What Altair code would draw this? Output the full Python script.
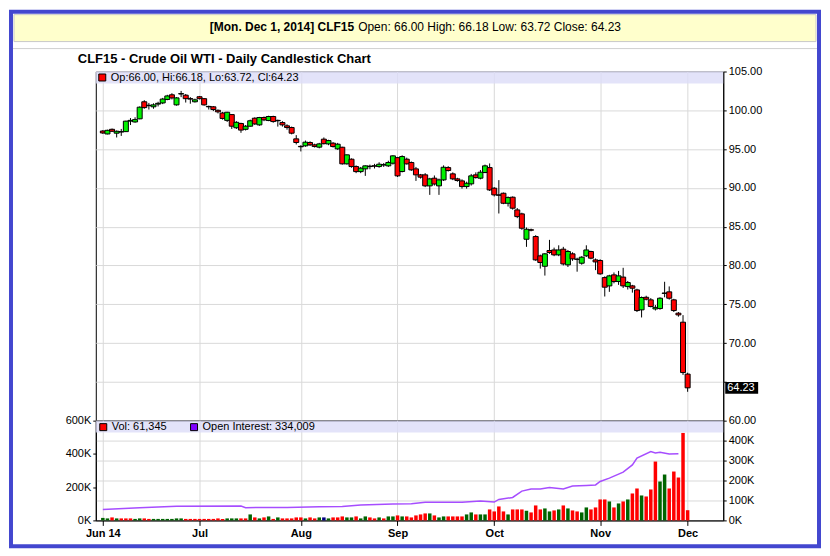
import altair as alt
import pandas as pd

# ---------------- data ----------------
opens = [97.33, 96.95, 97.55, 97.05, 97.20, 97.25, 98.60, 98.50, 98.90, 101.10,
         100.60, 100.45, 100.80, 100.95, 101.40, 102.00, 100.70, 102.10, 101.95, 101.50,
         101.10, 101.75, 101.50, 100.50, 100.45, 100.00, 99.65, 98.70, 99.45, 97.75,
         98.30, 97.55, 97.95, 98.98, 98.12, 99.07, 98.68, 99.20, 98.70, 98.42,
         98.00, 97.78, 96.32, 95.35, 95.42, 95.85, 95.55, 95.25, 96.28, 95.67,
         95.76, 95.03, 95.24, 93.10, 93.70, 92.75, 92.10, 92.45, 92.75, 92.85,
         92.75, 92.95, 92.84, 93.18, 93.90, 92.11, 93.70, 93.27, 92.45, 91.68,
         91.68, 90.26, 91.25, 90.26, 91.03, 92.62, 91.81, 91.16, 90.90, 90.17,
         90.52, 91.68, 91.25, 91.98, 92.62, 89.96, 89.10, 89.31, 88.02, 88.80,
         87.16, 86.65, 83.38, 84.60, 83.73, 81.24, 79.90, 81.93, 82.00, 81.37,
         82.10, 80.08, 81.50, 80.80, 80.29, 81.24, 81.80, 80.72, 80.64, 78.44,
         77.37, 78.79, 77.93, 78.50, 77.28, 77.37, 76.85, 74.28, 75.90, 75.57,
         74.40, 74.45, 76.40, 76.60, 75.57, 73.85, 72.69, 66.00]
closes = [97.08, 97.42, 97.30, 97.30, 97.25, 98.60, 98.70, 98.80, 100.40, 100.35,
          100.65, 100.70, 100.90, 101.45, 101.85, 101.60, 101.60, 102.15, 101.50, 101.45,
          101.35, 101.50, 100.70, 100.45, 100.10, 99.80, 98.95, 99.75, 97.95, 98.45,
          97.45, 97.95, 98.65, 98.25, 99.07, 98.77, 99.20, 98.55, 98.65, 98.12,
          97.78, 97.05, 95.85, 95.30, 95.89, 95.55, 95.33, 95.67, 95.70, 96.10,
          95.33, 95.63, 93.10, 94.26, 92.75, 92.10, 92.54, 92.84, 92.80, 92.80,
          93.05, 93.00, 93.27, 94.13, 91.55, 94.04, 93.10, 92.32, 91.68, 91.38,
          90.26, 91.16, 90.50, 91.03, 92.66, 92.24, 91.16, 90.95, 90.17, 90.60,
          91.55, 91.33, 92.02, 92.84, 89.74, 89.10, 89.05, 88.02, 88.75, 87.38,
          86.30, 84.80, 84.67, 84.55, 80.72, 80.38, 81.50, 81.67, 81.37, 82.00,
          80.20, 81.80, 80.85, 80.80, 81.07, 82.00, 80.94, 80.46, 78.92, 77.20,
          78.66, 77.93, 78.66, 77.37, 77.80, 77.07, 74.19, 75.87, 75.65, 74.71,
          74.60, 75.78, 76.45, 75.78, 74.19, 73.63, 66.20, 64.23]
highs = [97.45, 97.50, 97.65, 97.40, 97.60, 98.65, 99.00, 99.10, 100.50, 101.30,
         100.95, 100.90, 101.10, 101.60, 102.00, 102.20, 101.70, 102.50, 102.10, 101.70,
         101.50, 101.85, 101.55, 100.60, 100.55, 100.10, 99.80, 99.80, 99.50, 98.60,
         98.40, 98.10, 98.80, 99.10, 99.15, 99.20, 99.30, 99.30, 98.80, 98.60,
         98.20, 97.90, 96.80, 95.50, 96.10, 96.00, 95.70, 95.80, 96.50, 96.20,
         95.90, 95.80, 95.30, 94.30, 93.80, 92.90, 92.70, 92.90, 93.00, 93.10,
         93.30, 93.20, 93.50, 94.20, 94.00, 94.20, 93.90, 93.40, 92.70, 91.80,
         91.90, 91.30, 91.60, 91.20, 92.90, 92.80, 92.00, 91.30, 91.10, 90.80,
         91.80, 92.00, 92.30, 93.00, 93.15, 90.10, 91.00, 89.40, 88.90, 88.90,
         87.40, 86.80, 84.90, 84.75, 83.90, 81.40, 81.60, 83.30, 82.30, 82.60,
         82.40, 82.00, 81.70, 81.00, 81.20, 82.60, 81.90, 80.90, 80.80, 78.60,
         78.80, 79.10, 79.30, 79.70, 78.00, 77.50, 77.00, 76.00, 76.10, 75.80,
         74.90, 75.90, 77.90, 77.30, 75.70, 74.00, 73.60, 66.18]
lows = [96.95, 96.90, 97.20, 96.50, 96.70, 97.20, 98.10, 98.40, 98.85, 100.20,
        100.10, 100.20, 100.50, 100.80, 101.30, 101.40, 100.60, 101.70, 101.00, 100.85,
        101.00, 101.40, 100.60, 100.10, 99.90, 99.60, 98.80, 98.50, 97.60, 97.60,
        97.10, 97.40, 97.90, 98.10, 98.00, 98.60, 98.60, 98.40, 97.90, 97.90,
        97.50, 96.90, 95.60, 94.70, 95.30, 95.40, 95.20, 95.10, 95.60, 95.50,
        95.20, 94.90, 93.00, 93.00, 92.60, 91.90, 91.90, 91.55, 92.40, 92.50,
        92.60, 92.70, 92.70, 93.00, 91.40, 92.00, 93.00, 92.20, 90.90, 91.20,
        90.10, 89.10, 90.30, 89.10, 90.90, 92.10, 91.00, 90.80, 89.90, 89.90,
        90.30, 91.20, 91.10, 91.90, 89.60, 88.90, 86.70, 87.90, 87.60, 87.20,
        86.10, 84.60, 82.40, 84.40, 80.60, 79.60, 78.70, 81.50, 81.20, 81.20,
        80.00, 79.80, 80.60, 79.20, 80.10, 81.10, 80.80, 79.40, 78.80, 76.00,
        76.60, 77.70, 77.50, 77.10, 76.90, 76.50, 74.00, 73.30, 75.50, 74.60,
        74.20, 74.30, 75.90, 75.60, 74.00, 73.40, 65.90, 63.72]
volumes_k = [15, 12, 18, 12, 12, 12, 12, 9, 12, 12,
             9, 9, 9, 9, 9, 9, 12, 12, 9, 9,
             9, 9, 9, 9, 9, 12, 9, 12, 12, 12,
             12, 12, 36, 18, 12, 18, 24, 9, 18, 12,
             12, 12, 18, 18, 12, 18, 12, 18, 18, 12,
             18, 18, 24, 18, 18, 24, 12, 24, 18, 12,
             18, 12, 24, 24, 30, 24, 24, 18, 30, 36,
             42, 42, 30, 18, 24, 24, 24, 24, 24, 36,
             48, 36, 36, 36, 66, 54, 84, 54, 36, 66,
             66, 66, 58, 48, 90, 66, 72, 54, 60, 66,
             90, 72, 60, 54, 48, 78, 66, 78, 126, 126,
             114, 78, 102, 114, 126, 162, 192, 150, 144, 186,
             354, 234, 276, 192, 294, 258, 526, 61.345]
vol_codes = ("ggrgrrrggr" "rgggggggrr" "rrrrrrrggg" "rrgrgrgrgr" "rrrrgrrgbg"
             "rrrggrggrr" "grggrgrrrr" "rgrggrrrrg" "grggrrrrgr" "rrgrrrggrg"
             "rgrrggrrrr" "grgrgrrgrr" "rggrrrrr")
oi_idx = [0, 8, 16, 30, 31, 40, 47, 52, 56, 63, 67, 70, 78, 82, 85, 86, 89, 91, 93, 95,
          97, 100, 102, 105, 107, 108, 110, 113, 115, 116, 119, 120, 121, 123, 125]
oi_k = [55, 63, 71, 72, 64, 65, 68, 70, 77, 82, 83, 91, 91, 97, 92, 105, 115, 147, 157, 158,
        165, 157, 172, 175, 178, 195, 212, 242, 278, 312, 345, 338, 342, 333, 334]
tick_idx = [0, 21, 43, 64, 85, 108, 127]
tick_labels = ["Jun 14", "Jul", "Aug", "Sep", "Oct", "Nov", "Dec"]
price_ticks = [60, 65, 70, 75, 80, 85, 90, 95, 100, 105]
hidden_price_label = 65   # covered by the last-price tag in the reference
vol_ticks = [0, 200000, 400000, 600000]
oi_ticks = [0, 100000, 200000, 300000, 400000]

header_bold = "[Mon. Dec 1, 2014] CLF15"
header_rest = "Open: 66.00 High: 66.18 Low: 63.72 Close: 64.23"
title_text = "CLF15 - Crude Oil WTI - Daily Candlestick Chart"
price_legend = "Op:66.00, Hi:66.18, Lo:63.72, Cl:64.23"
vol_legend = "Vol: 61,345"
oi_legend = "Open Interest: 334,009"

# ---------------- tables ----------------
FONT = "Liberation Sans"
W, PH, VH = 629, 350, 100
vmap = {"g": "#006400", "r": "#ff0000", "b": "#000080"}
df = pd.DataFrame({
    "i": list(range(len(opens))), "open": opens, "high": highs, "low": lows, "close": closes,
    "ccol": ["#00f000" if c >= o else "#ff0000" for o, c in zip(opens, closes)],
    "vol": [v * 1000 for v in volumes_k],
    "vcol": [vmap[c] for c in vol_codes],
})
oi_df = pd.DataFrame({"i": oi_idx, "oi": [v * 1000 for v in oi_k]})
last = df.iloc[[-1]].copy()
last["top"] = last["close"] + 0.75
last["bot"] = last["close"] - 0.75
last["lbl"] = last["close"].map(lambda v: f"{v:.2f}")
one = pd.DataFrame({"k": [0]})

xs = alt.Scale(domain=[-0.45, 133.65], nice=False, zero=False)
label_expr = " : ".join(f"datum.value == {t} ? '{l}'" for t, l in zip(tick_idx, tick_labels)) + " : ''"


def deco_rect(x, x2, y, y2, **kw):
    return alt.Chart(one).mark_rect(**kw).encode(
        x=alt.value(x), x2=alt.value(x2), y=alt.value(y), y2=alt.value(y2))


def deco_text(x, y, txt, **kw):
    return alt.Chart(one).mark_text(font=FONT, baseline="middle", color="black", **kw).encode(
        x=alt.value(x), y=alt.value(y), text=alt.value(txt))


# ---------------- price panel ----------------
px_axis = alt.Axis(values=tick_idx, labels=False, ticks=False, domain=False, grid=True, title=None)
py_scale = alt.Scale(domain=[60, 105], nice=False, zero=False)
py_axis = alt.Axis(orient="right", values=price_ticks, grid=True, title=None,
                   labelExpr=f"datum.value == {hidden_price_label} ? '' : format(datum.value, '.2f')",
                   tickSize=3, labelPadding=2, labelOverlap=False, labelFlush=False,
                   labelBound=False)


def PX():
    return alt.X("i:Q", scale=xs, axis=px_axis)


def PY(field):
    return alt.Y(field, scale=py_scale, axis=py_axis)


frame = deco_rect(-85, 725, -60, 476, filled=False, stroke="#4347cf", strokeWidth=4)
head_box = deco_rect(-82, 722, -57, -30, fill="#ffffcc", stroke="#c8c8c8", strokeWidth=1)
head_b = deco_text(259, -45, header_bold, align="right", fontSize=12, fontWeight="bold")
head_n = deco_text(263, -45, header_rest, align="left", fontSize=12)
sep = alt.Chart(one).mark_rule(color="#d0d0d0").encode(
    x=alt.value(-83), x2=alt.value(723), y=alt.value(-23))
title = deco_text(-18, -13, title_text, align="left", fontSize=13, fontWeight="bold")
pband = deco_rect(0, W, 0, 12, fill="#dcdcf7", opacity=0.8)
psq = deco_rect(3, 10, 2.5, 9.5, fill="#ff0000", stroke="black", strokeWidth=1)
ptxt = deco_text(15, 6.5, price_legend, align="left", fontSize=11)

wicks = alt.Chart(df).mark_rule(color="black", strokeWidth=1).encode(
    x=PX(), y=PY("low:Q"), y2="high:Q")
bodies = alt.Chart(df).mark_bar(size=5, stroke="black", strokeWidth=1).encode(
    x=PX(), y=PY("open:Q"), y2="close:Q",
    fill=alt.Fill("ccol:N", scale=None))
tag = alt.Chart(last).mark_rect(color="black").encode(
    x=alt.value(631), x2=alt.value(664), y=PY("top:Q"), y2="bot:Q")
tag_t = alt.Chart(last).mark_text(font=FONT, fontSize=11, color="white", align="left",
                                  baseline="middle").encode(
    x=alt.value(633), y=PY("close:Q"), text="lbl:N")

price = alt.layer(frame, head_box, head_b, head_n, sep, title, pband, wicks, bodies,
                  psq, ptxt, tag, tag_t).properties(width=W, height=PH)

# ---------------- volume panel ----------------
vx = alt.X("i:Q", scale=xs, axis=alt.Axis(values=tick_idx, labelExpr=label_expr, grid=True,
                                         title=None, labelFontWeight="bold", tickSize=5,
                                         labelPadding=2, labelFlush=False, labelOverlap=False,
                                         labelBound=False))
vband = deco_rect(0, W, 0, 12, fill="#dcdcf7", opacity=0.8)
vbars = alt.Chart(df).mark_bar(size=3.5).encode(
    x=vx,
    y=alt.Y("vol:Q", stack=None, scale=alt.Scale(domain=[0, 600000], nice=False),
            axis=alt.Axis(orient="left", values=vol_ticks, grid=False, title=None,
                          labelExpr="(datum.value / 1000) + 'K'", tickSize=3, labelPadding=2,
                          labelOverlap=False, labelFlush=False)),
    fill=alt.Fill("vcol:N", scale=None))
oi_line = alt.Chart(oi_df).mark_line(color="#a64dff", strokeWidth=1.5).encode(
    x=vx,
    y=alt.Y("oi:Q", scale=alt.Scale(domain=[0, 500000], nice=False),
            axis=alt.Axis(orient="right", values=oi_ticks, grid=True, title=None,
                          labelExpr="(datum.value / 1000) + 'K'", tickSize=3, labelPadding=2,
                          labelOverlap=False, labelFlush=False)))
vsq = deco_rect(4, 11, 3, 10, fill="#ff0000", stroke="black", strokeWidth=1)
vtxt = deco_text(16, 6.5, vol_legend, align="left", fontSize=11)
osq = deco_rect(95, 102, 3, 10, fill="#8000ff", stroke="black", strokeWidth=1)
otxt = deco_text(107, 6.5, oi_legend, align="left", fontSize=11)

volume = alt.layer(vband, vbars, oi_line, vsq, vtxt, osq, otxt).resolve_scale(
    y="independent").properties(width=W, height=VH)

chart = alt.vconcat(price, volume, spacing=0, bounds="flush", padding=0,
                    background="white").resolve_scale(x="independent").configure(
    font=FONT).configure_view(stroke="black", strokeWidth=1).configure_axis(
    labelFont=FONT, labelFontSize=11, labelColor="black", domainColor="black",
    tickColor="black", gridColor="#d9d9d9")

chart.save("out.html", embed_options={"renderer": "svg", "actions": False})
